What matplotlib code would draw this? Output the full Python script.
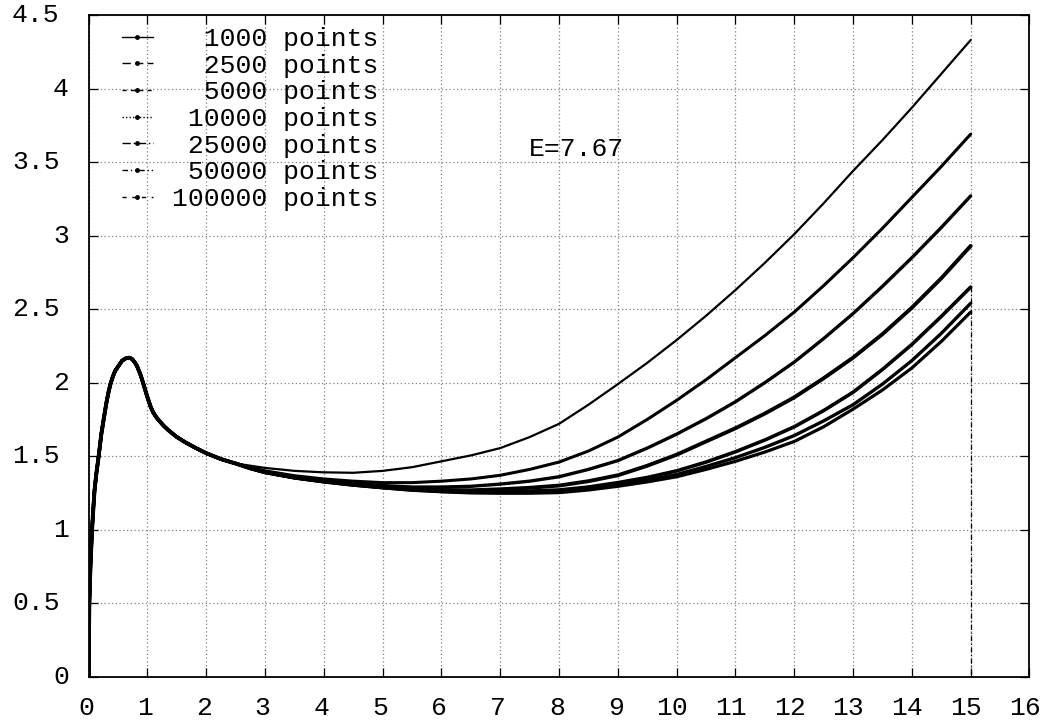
import matplotlib
matplotlib.use('Agg')
import matplotlib.pyplot as plt
from matplotlib.lines import Line2D
from matplotlib.transforms import ScaledTranslation

# ---------------- data ----------------
# common start of all runs (x <= 2.5)
x_early = [0.0, 0.004, 0.011, 0.03, 0.057, 0.08, 0.1, 0.13, 0.17, 0.215, 0.255, 0.30,
           0.34, 0.37, 0.41, 0.45, 0.51, 0.57, 0.63, 0.69, 0.74, 0.78, 0.82, 0.85,
           0.88, 0.905, 0.95, 1.0, 1.05, 1.1, 1.15, 1.2, 1.28, 1.36, 1.5, 1.64, 1.8,
           2.0, 2.25, 2.5]
y_early = [0.0, 0.25, 0.5, 0.75, 1.0, 1.15, 1.27, 1.38, 1.5, 1.65, 1.75, 1.86,
           1.94, 1.99, 2.04, 2.08, 2.115, 2.15, 2.165, 2.17, 2.16, 2.14, 2.115, 2.085,
           2.055, 2.025, 1.965, 1.9, 1.84, 1.795, 1.765, 1.74, 1.705, 1.675, 1.63, 1.595, 1.56,
           1.52, 1.48, 1.45]

x_late = [2.75, 3.0, 3.5, 4.0, 4.5, 5.0, 5.5, 6.0, 6.5, 7.0, 7.5, 8.0, 8.5, 9.0, 9.5,
          10.0, 10.5, 11.0, 11.5, 12.0, 12.5, 13.0, 13.5, 14.0, 14.5, 15.0]
y_1000 = [1.435, 1.42, 1.40, 1.39, 1.387, 1.40, 1.425, 1.465, 1.505, 1.555, 1.63, 1.72, 1.85,
          1.99, 2.135, 2.29, 2.455, 2.63, 2.815, 3.01, 3.22, 3.44, 3.65, 3.87, 4.10, 4.33]
y_2500 = [1.425, 1.40, 1.367, 1.345, 1.33, 1.32, 1.32, 1.33, 1.345, 1.37, 1.41, 1.46, 1.535,
          1.63, 1.75, 1.88, 2.02, 2.17, 2.32, 2.48, 2.66, 2.85, 3.05, 3.26, 3.47, 3.69]
y_5000 = [1.42, 1.395, 1.36, 1.335, 1.315, 1.30, 1.29, 1.29, 1.295, 1.31, 1.33, 1.36, 1.41,
          1.47, 1.555, 1.65, 1.755, 1.87, 2.0, 2.14, 2.30, 2.47, 2.655, 2.85, 3.055, 3.27]
y_10000 = [1.417, 1.39, 1.355, 1.33, 1.307, 1.29, 1.277, 1.27, 1.268, 1.275, 1.285, 1.30, 1.33,
           1.37, 1.435, 1.51, 1.60, 1.69, 1.79, 1.90, 2.03, 2.17, 2.33, 2.51, 2.71, 2.93]
y_25000 = [1.417, 1.39, 1.355, 1.33, 1.307, 1.29, 1.275, 1.265, 1.26, 1.26, 1.262, 1.27, 1.29,
           1.32, 1.355, 1.40, 1.46, 1.53, 1.61, 1.70, 1.81, 1.935, 2.09, 2.26, 2.45, 2.65]
y_50000 = [1.417, 1.39, 1.352, 1.325, 1.303, 1.285, 1.27, 1.26, 1.254, 1.252, 1.253, 1.26, 1.28,
           1.305, 1.338, 1.375, 1.43, 1.49, 1.56, 1.64, 1.74, 1.85, 1.99, 2.15, 2.335, 2.54]
y_100000 = [1.417, 1.39, 1.352, 1.325, 1.303, 1.285, 1.268, 1.258, 1.25, 1.248, 1.248, 1.252, 1.27,
            1.295, 1.325, 1.36, 1.41, 1.465, 1.528, 1.60, 1.70, 1.82, 1.95, 2.10, 2.28, 2.48]

series_labels = ['1000 points', '2500 points', '5000 points', '10000 points',
                 '25000 points', '50000 points', '100000 points']
series_late = [y_1000, y_2500, y_5000, y_10000, y_25000, y_50000, y_100000]
# end of the runs drops to zero at x = 15
drop_x = [15.0, 15.0]
drop_y = [2.65, 0.0]

xticks = list(range(0, 17))
yticks = [0, 0.5, 1, 1.5, 2, 2.5, 3, 3.5, 4, 4.5]
ytick_labels = ['0', '0.5', '1', '1.5', '2', '2.5', '3', '3.5', '4', '4.5']
annotation = 'E=7.67'

# ---------------- styling ----------------
FONT = 'Liberation Mono'
FS = 19
plt.rcParams['font.family'] = [FONT, 'DejaVu Sans Mono']

fig = plt.figure(figsize=(10.42, 7.23), dpi=100)
ax = fig.add_axes([0.0851, 0.0640, 0.9029, 0.9152])

widths = [1.6, 2.2, 2.4, 2.8, 2.6, 2.4, 2.3]
legend_styles = ['-', (0, (6, 3)), (0, (3, 3)), (0, (1, 1.5)), (0, (6, 2, 1, 2)),
                 (0, (4, 2, 1, 2, 1, 2)), (0, (3, 4))]

for yl, lw in zip(series_late, widths):
    xs = x_early + x_late
    ys = y_early + yl
    ax.plot(xs, ys, color='black', lw=lw, solid_capstyle='round',
            solid_joinstyle='round', zorder=3)

ax.plot(drop_x, drop_y, color='black', lw=0.9, ls=(0, (4, 2, 1, 2)), zorder=3)

ax.set_xlim(0, 16)
ax.set_ylim(0, 4.5)
ax.set_xticks(xticks)
ax.set_yticks(yticks)
ax.tick_params(direction='in', length=6.5, width=0.9, top=True, right=True,
               labelleft=False, labelbottom=False)
for sp in ax.spines.values():
    sp.set_linewidth(1.3)
ax.grid(True, color='#808080', lw=0.9, ls=(0, (1, 2)))
ax.set_axisbelow(True)

# tick labels positioned in gnuplot fashion
for yv, lab in zip(yticks, ytick_labels):
    n = len(lab)
    dx = (73.5 - 20.5 * n - 88.7) / 100.0
    tr = ax.get_yaxis_transform() + ScaledTranslation(dx, 0, fig.dpi_scale_trans)
    ax.text(0, yv, lab, transform=tr, ha='left', va='center', fontsize=FS,
            family=FONT, clip_on=False)
for xv in xticks:
    lab = str(xv)
    n = len(lab)
    dx = (-10.25 * n) / 100.0
    tr = ax.get_xaxis_transform() + ScaledTranslation(dx, -31 / 100.0, fig.dpi_scale_trans)
    ax.text(xv, 0, lab, transform=tr, ha='left', va='center', fontsize=FS,
            family=FONT, clip_on=False)

ax.text(7.49, 3.59, annotation, ha='left', va='center', fontsize=FS, family=FONT)

handles = [Line2D([], [], color='black', lw=1.0, ls=st, marker='o', markersize=2.5)
           for st in legend_styles]
labels = [s.rjust(13) for s in series_labels]
ax.legend(handles, labels, loc='upper left', bbox_to_anchor=(0.035, 0.982),
          frameon=False, prop={'family': FONT, 'size': FS}, handlelength=1.2,
          handletextpad=0.7, labelspacing=0.10, borderpad=0, borderaxespad=0)

fig.savefig('out.png', dpi=100)
